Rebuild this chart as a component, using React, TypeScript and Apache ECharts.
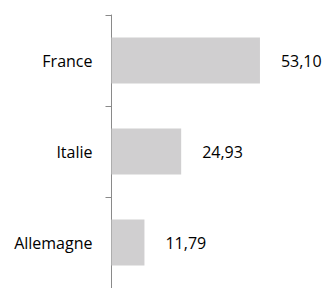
import React, { useEffect, useRef } from "react";
import * as echarts from "echarts";

const categories = ["France", "Italie", "Allemagne"];
const values = [53.1, 24.93, 11.79];

export default function App() {
  const ref = useRef<HTMLDivElement>(null);
  useEffect(() => {
    const chart = echarts.init(ref.current!, null, { renderer: "svg" });
    chart.setOption({
      animation: false,
      backgroundColor: "#ffffff",
      grid: { left: 111.5, top: 15, width: 167.7, height: 278.5 },
      xAxis: {
        type: "value",
        min: 0,
        max: 60,
        show: false,
      },
      yAxis: {
        type: "category",
        data: categories,
        inverse: true,
        axisLine: { show: true, lineStyle: { color: "#8a8a8a", width: 1 } },
        axisTick: { show: true, length: 6, lineStyle: { color: "#8a8a8a" } },
        axisLabel: {
          margin: 19,
          color: "#000000",
          fontFamily: "Open Sans",
          fontSize: 16,
        },
        splitLine: { show: false },
      },
      series: [
        {
          type: "bar",
          data: values,
          barWidth: 46,
          itemStyle: { color: "#d0cfd0" },
          label: {
            show: true,
            position: "right",
            distance: 21,
            color: "#000000",
            fontFamily: "Open Sans",
            fontSize: 16,
            formatter: (p: any) => p.value.toFixed(2).replace(".", ","),
          },
        },
      ],
    });
    return () => chart.dispose();
  }, []);
  return (
    <div
      ref={ref}
      style={{ position: "fixed", left: 0, top: 0, width: 325, height: 288 }}
    />
  );
}
